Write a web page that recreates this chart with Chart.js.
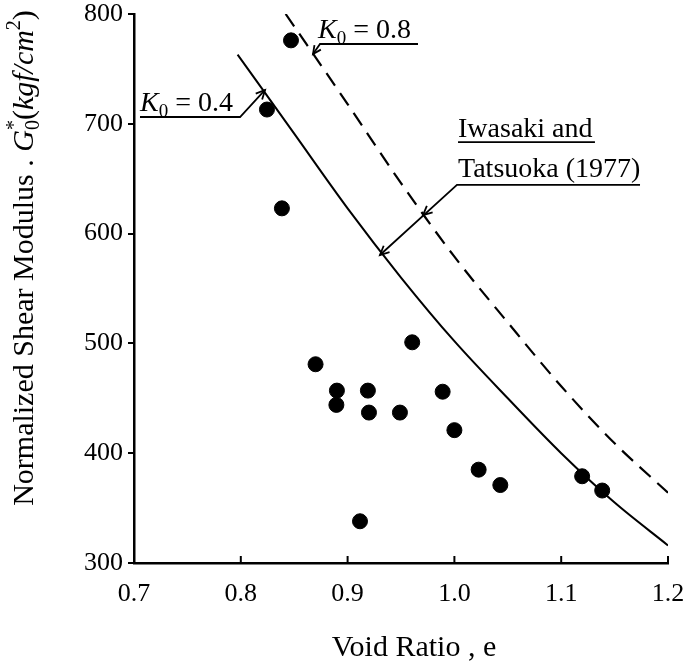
<!DOCTYPE html>
<html>
<head>
<meta charset="utf-8">
<script src="https://cdn.jsdelivr.net/npm/chart.js@4.4.1/dist/chart.umd.min.js"></script>
<style>
  html, body { margin: 0; padding: 0; background: #fff; }
  #wrap { width: 684px; height: 669px; }
</style>
</head>
<body>
<div id="wrap"><canvas id="shear-modulus-chart" width="684" height="669"></canvas></div>
<script>
// measured points: void ratio e vs normalized G0*
var voidRatio = [0.847, 0.8245, 0.8385, 0.870, 0.890, 0.8895, 0.919, 0.920, 0.949,
                 0.9605, 0.989, 1.000, 1.0227, 1.043, 0.9116, 1.1196, 1.1384];
var shearModulus = [776, 713, 623, 481, 457, 444, 457, 437, 437,
                    501, 456, 421, 385, 371, 338, 379, 366];

// Iwasaki and Tatsuoka (1977), K0 = 0.4 (solid)
var k04Ratio = [0.797, 0.85, 0.9, 0.95, 1.0, 1.05, 1.1, 1.15, 1.2];
var k04Modulus = [763, 691, 623, 560, 502, 450, 400, 355, 316];

// Iwasaki and Tatsuoka (1977), K0 = 0.8 (dashed)
var k08Ratio = [0.842, 0.9, 0.95, 1.0, 1.05, 1.1, 1.15, 1.2];
var k08Modulus = [800, 718, 646, 579, 519, 461, 409, 364];

var xTicks = [0.7, 0.8, 0.9, 1.0, 1.1, 1.2];
var yTicks = [300, 400, 500, 600, 700, 800];

var SERIF = "'Liberation Serif', 'DejaVu Serif', serif";

function toPoints(xs, ys) {
    return xs.map(function(x, i) { return { x: x, y: ys[i] }; });
}

function drawRuns(ctx, runs, x, y, align) {
    var total = 0;
    runs.forEach(function(r) {
        ctx.font = r.font;
        r.w = ctx.measureText(r.text).width;
        if (!r.stack) total += r.w;
    });
    var cx = align === 'center' ? x - total / 2 : x;
    runs.forEach(function(r) {
        ctx.font = r.font;
        ctx.fillText(r.text, cx, y + (r.dy || 0));
        if (!r.stack) cx += r.w;
    });
}

function arrowHead(ctx, fx, fy, tx, ty, len) {
    var a = Math.atan2(ty - fy, tx - fx);
    ctx.beginPath();
    ctx.moveTo(tx - len * Math.cos(a - 0.45), ty - len * Math.sin(a - 0.45));
    ctx.lineTo(tx, ty);
    ctx.lineTo(tx - len * Math.cos(a + 0.45), ty - len * Math.sin(a + 0.45));
    ctx.stroke();
}

var annotationPlugin = {
    id: 'paperAnnotations',
    afterDraw: function(chart) {
        var ctx = chart.ctx;
        var xs = chart.scales.x, ys = chart.scales.y;
        var px = function(v) { return xs.getPixelForValue(v); };
        var py = function(v) { return ys.getPixelForValue(v); };
        var area = chart.chartArea;

        ctx.save();
        ctx.strokeStyle = '#000';
        ctx.fillStyle = '#000';
        ctx.textAlign = 'left';
        ctx.textBaseline = 'alphabetic';

        // inward x ticks
        ctx.lineWidth = 2;
        xTicks.forEach(function(t) {
            ctx.beginPath();
            ctx.moveTo(px(t), area.bottom);
            ctx.lineTo(px(t), area.bottom - 7);
            ctx.stroke();
        });

        var big = '28px ' + SERIF;
        var bigIt = 'italic 28px ' + SERIF;
        var small = '19px ' + SERIF;
        var title = '30px ' + SERIF;
        var titleIt = 'italic 30px ' + SERIF;
        var titleSmall = '20px ' + SERIF;

        // axis titles
        drawRuns(ctx, [{ text: 'Void Ratio , e', font: title }], px(0.95) + 13, 656, 'center');

        ctx.save();
        ctx.translate(23, 258);
        ctx.rotate(-Math.PI / 2);
        drawRuns(ctx, [
            { text: 'Normalized Shear Modulus . ', font: title },
            { text: 'G', font: titleIt },
            { text: '*', font: titleSmall, dy: -13, stack: true },
            { text: '0', font: titleSmall, dy: 6 },
            { text: '(', font: title },
            { text: 'kgf/cm', font: titleIt },
            { text: '2', font: titleSmall, dy: -13 },
            { text: ')', font: title }
        ], 0, 10, 'center');
        ctx.restore();

        // K0 = 0.8 label and leader
        drawRuns(ctx, [
            { text: 'K', font: bigIt },
            { text: '0', font: small, dy: 6 },
            { text: ' = 0.8', font: big }
        ], px(0.8723), py(778.1));
        ctx.lineWidth = 1.8;
        ctx.beginPath();
        ctx.moveTo(px(0.9659), py(772.7));
        ctx.lineTo(px(0.8742), py(772.7));
        ctx.lineTo(px(0.8676), py(763.6));
        ctx.stroke();
        arrowHead(ctx, px(0.8742), py(772.7), px(0.8676), py(763.6), 9);

        // K0 = 0.4 label and leader
        drawRuns(ctx, [
            { text: 'K', font: bigIt },
            { text: '0', font: small, dy: 6 },
            { text: ' = 0.4', font: big }
        ], px(0.7056), py(711.7));
        ctx.beginPath();
        ctx.moveTo(px(0.7056), py(706.2));
        ctx.lineTo(px(0.7993), py(706.2));
        ctx.lineTo(px(0.8227), py(730.8));
        ctx.stroke();
        arrowHead(ctx, px(0.7993), py(706.2), px(0.8227), py(730.8), 10);

        // Iwasaki and Tatsuoka (1977) label and leader
        drawRuns(ctx, [{ text: 'Iwasaki and', font: big }], px(1.0034), py(688));
        drawRuns(ctx, [{ text: 'Tatsuoka (1977)', font: big }], px(1.0034), py(651.5));
        ctx.beginPath();
        ctx.moveTo(px(1.0034), py(683.4));
        ctx.lineTo(px(1.1316), py(683.4));
        ctx.moveTo(px(1.1738), py(644.3));
        ctx.lineTo(px(1.0024), py(644.3));
        ctx.lineTo(px(0.9303), py(580.5));
        ctx.stroke();
        arrowHead(ctx, px(1.0024), py(644.3), px(0.9706), py(616.9), 10);
        arrowHead(ctx, px(1.0024), py(644.3), px(0.9303), py(580.5), 10);

        ctx.restore();
    }
};

var chartElement = document.getElementById('shear-modulus-chart');
var chart = new Chart(chartElement.getContext('2d'), {
    type: 'scatter',
    data: {
        datasets: [
            {
                label: 'Measured',
                data: toPoints(voidRatio, shearModulus),
                backgroundColor: '#000',
                borderColor: '#000',
                pointRadius: 7.5,
                pointHoverRadius: 7.5
            },
            {
                label: 'K0 = 0.4',
                type: 'line',
                data: toPoints(k04Ratio, k04Modulus),
                borderColor: '#000',
                borderWidth: 2,
                pointRadius: 0,
                fill: false,
                cubicInterpolationMode: 'monotone'
            },
            {
                label: 'K0 = 0.8',
                type: 'line',
                data: toPoints(k08Ratio, k08Modulus),
                borderColor: '#000',
                borderWidth: 2.2,
                borderDash: [15, 9],
                pointRadius: 0,
                fill: false,
                cubicInterpolationMode: 'monotone'
            }
        ]
    },
    options: {
        responsive: false,
        animation: false,
        layout: { padding: { top: 14, right: 16, left: 0, bottom: 0 } },
        plugins: {
            legend: { display: false },
            tooltip: { enabled: false }
        },
        scales: {
            x: {
                type: 'linear',
                min: 0.7,
                max: 1.2,
                afterBuildTicks: function(scale) {
                    scale.ticks = xTicks.map(function(v) { return { value: v }; });
                },
                afterFit: function(scale) {
                    scale.height = 106;
                    scale.paddingLeft = 0;
                    scale.paddingRight = 0;
                },
                grid: { display: false },
                border: { display: true, color: '#000', width: 2.5 },
                ticks: {
                    color: '#000',
                    padding: 8,
                    maxRotation: 0,
                    font: { family: SERIF, size: 26 },
                    callback: function(v) { return Number(v).toFixed(1); }
                }
            },
            y: {
                type: 'linear',
                min: 300,
                max: 800,
                afterBuildTicks: function(scale) {
                    scale.ticks = yTicks.map(function(v) { return { value: v }; });
                },
                afterFit: function(scale) {
                    scale.width = 134;
                    scale.paddingTop = 0;
                    scale.paddingBottom = 0;
                },
                grid: { display: true, drawOnChartArea: false, drawTicks: true, tickLength: 6, color: '#000', lineWidth: 2 },
                border: { display: true, color: '#000', width: 2.5 },
                ticks: {
                    color: '#000',
                    padding: 5,
                    font: { family: SERIF, size: 26 }
                }
            }
        }
    },
    plugins: [annotationPlugin]
});
</script>
</body>
</html>
